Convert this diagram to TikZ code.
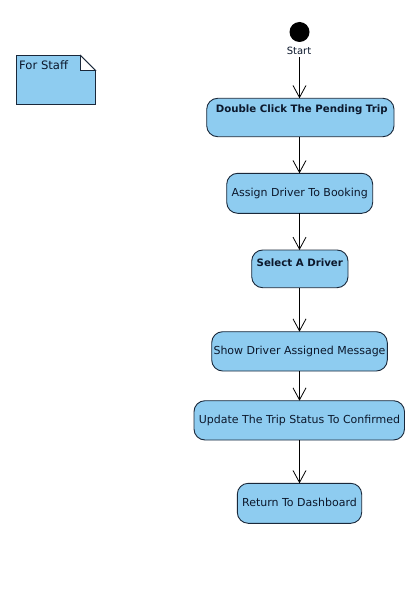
\documentclass[tikz,border=0pt]{standalone}
\usepackage{fontspec}
\setmainfont{DejaVu Sans}
\usetikzlibrary{arrows.meta}
\definecolor{actfill}{RGB}{142,204,240}
\definecolor{actline}{RGB}{26,40,58}
\definecolor{acttext}{RGB}{12,24,44}
\begin{document}
\begin{tikzpicture}[x=1pt,y=-1pt,
  act/.style={draw=actline,fill=actfill,line width=0.9pt,rounded corners=11pt},
  lbl/.style={text=acttext,font=\fontsize{11}{13}\selectfont,inner sep=0pt},
  blbl/.style={text=acttext,font=\fontsize{10.2}{12}\bfseries\selectfont,inner sep=0pt},
  flow/.style={draw=black,line width=0.8pt,-{Straight Barb[length=12pt,width=13pt,line width=0.8pt]}}]
\useasboundingbox (0,0) rectangle (408,591);
\fill[white] (0,0) rectangle (408,591);
% note
\filldraw[draw=actline,fill=actfill,line width=0.9pt] (16.5,55.5) -- (80.5,55.5) -- (95.5,70.5) -- (95.5,104.5) -- (16.5,104.5) -- cycle;
\filldraw[draw=actline,fill=white,line width=0.9pt] (80.5,55.5) -- (80.5,70.5) -- (95.5,70.5) -- cycle;
\node[lbl,anchor=west,font=\fontsize{11.6}{13}\selectfont] (note) at (19,65) {For Staff};
% start
\node[circle,fill=black,minimum size=20pt,inner sep=0pt] (start) at (299.5,32) {};
\node[lbl,font=\fontsize{10}{12}\selectfont] (startlbl) at (299,50.5) {Start};
% activities
\path[act] (206.7,98.3) rectangle (394,136.7);
\coordinate (b1t) at (299.5,98.3); \coordinate (b1b) at (299.5,136.7);
\node[blbl] (t1) at (301.7,110) {Double Click The Pending Trip};
\path[act] (226.7,173.3) rectangle (372.7,213.3);
\coordinate (b2t) at (299.5,173.3); \coordinate (b2b) at (299.5,213.3);
\node[lbl] (t2) at (299.7,193.3) {Assign Driver To Booking};
\path[act] (251.7,250) rectangle (348,287.7);
\coordinate (b3t) at (299.5,250); \coordinate (b3b) at (299.5,287.7);
\node[blbl] (t3) at (299.8,262.3) {Select A Driver};
\path[act] (211.7,331.7) rectangle (387.3,371);
\coordinate (b4t) at (299.5,331.7); \coordinate (b4b) at (299.5,371);
\node[lbl] (t4) at (299.5,351) {Show Driver Assigned Message};
\path[act] (194,400.7) rectangle (404.5,440);
\coordinate (b5t) at (299.5,400.7); \coordinate (b5b) at (299.5,440);
\node[lbl] (t5) at (299.5,420) {Update The Trip Status To Confirmed};
\path[act] (237.3,483.3) rectangle (361.7,523.3);
\coordinate (b6t) at (299.5,483.3);
\node[lbl] (t6) at (299.5,502.5) {Return To Dashboard};
% flows
\coordinate (s0) at (299.5,57);
\draw[flow] (s0) -- (b1t);
\draw[flow] (b1b) -- (b2t);
\draw[flow] (b2b) -- (b3t);
\draw[flow] (b3b) -- (b4t);
\draw[flow] (b4b) -- (b5t);
\draw[flow] (b5b) -- (b6t);
\end{tikzpicture}
\end{document}
